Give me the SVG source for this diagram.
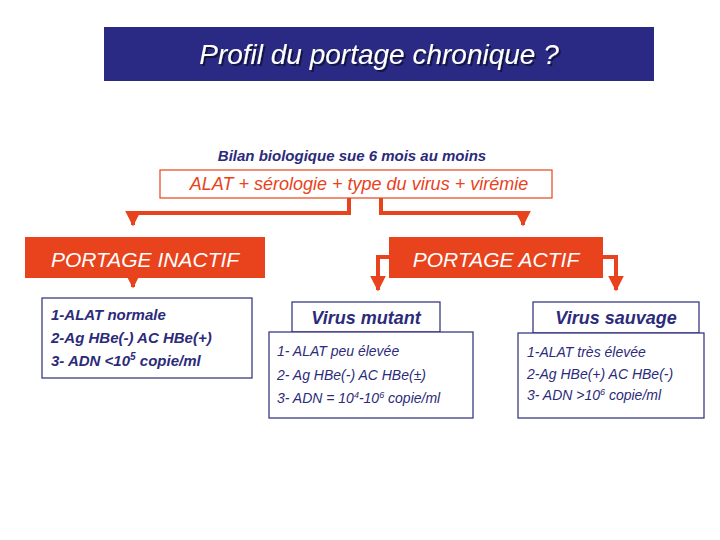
<svg xmlns="http://www.w3.org/2000/svg" width="720" height="540" viewBox="0 0 720 540">
<style>
text{font-family:"Liberation Sans",Arial,sans-serif;font-style:italic}
.nv{fill:#2b2b7a}
.red{fill:#e8431c}
.box{fill:#fff;stroke:#2b2b7a;stroke-width:1.2}
.ln{fill:none;stroke:#e8431c;stroke-width:4}
.det{font-size:14px;fill:#2b2b7a}
.detb{font-size:15px;font-weight:bold;fill:#2b2b7a}
.wh{fill:#fff;font-size:21px}
</style>
<defs>
<filter id="sh" x="-5%" y="-20%" width="110%" height="140%"><feDropShadow dx="2" dy="2" stdDeviation="0.5" flood-color="#000" flood-opacity="0.5"/></filter>
<marker id="a" viewBox="0 0 10 10" refX="9" refY="5" markerWidth="4" markerHeight="4" orient="auto"><path d="M0,0L10,5L0,10z" fill="#e8431c"/></marker>
</defs>
<g id="title">
<rect x="104" y="27" width="550" height="54" fill="#2a2a85"/>
<text x="379" y="64" text-anchor="middle" font-size="28" fill="#fff" filter="url(#sh)">Profil du portage chronique ?</text>
</g>
<g id="bilan"><text x="352" y="161" text-anchor="middle" font-size="15" font-weight="bold" class="nv">Bilan biologique sue 6 mois au moins</text></g>
<g id="alat">
<rect x="160" y="170" width="392" height="28" fill="#fff" stroke="#e8431c" stroke-width="1.2"/>
<text x="359" y="190" text-anchor="middle" font-size="18" class="red">ALAT + sérologie  + type du virus + virémie</text>
</g>
<g id="connectors">
<path class="ln" d="M349,198V213H133V225" marker-end="url(#a)"/>
<path class="ln" d="M381,198V213H523V225" marker-end="url(#a)"/>
<path class="ln" d="M133,278V287" marker-end="url(#a)"/>
<path class="ln" d="M389,257H378V290" marker-end="url(#a)"/>
<path class="ln" d="M603,257H616V290" marker-end="url(#a)"/>
</g>
<g id="inactif">
<rect x="25" y="237" width="240" height="41" fill="#e8431c"/>
<text x="145" y="267" text-anchor="middle" class="wh">PORTAGE INACTIF</text>
</g>
<g id="actif">
<rect x="389" y="237" width="214" height="41" fill="#e8431c"/>
<text x="496" y="267" text-anchor="middle" class="wh">PORTAGE ACTIF</text>
</g>
<g id="inactif-details">
<rect class="box" x="42" y="298" width="210" height="80"/>
<text x="51" y="320" class="detb">1-ALAT normale</text>
<text x="51" y="343" class="detb">2-Ag HBe(-)  AC HBe(+)</text>
<text x="51" y="366" class="detb">3- ADN &lt;10<tspan font-size="10" dy="-6">5</tspan><tspan dy="6"> copie/ml</tspan></text>
</g>
<g id="mutant">
<rect class="box" x="292" y="302" width="148" height="30"/>
<text x="366" y="324" text-anchor="middle" font-size="18" font-weight="bold" class="nv">Virus mutant</text>
</g>
<g id="mutant-details">
<rect class="box" x="269" y="332" width="204" height="86"/>
<text x="277" y="356" class="det">1- ALAT peu élevée</text>
<text x="277" y="380" class="det">2- Ag HBe(-)  AC HBe(±)</text>
<text x="277" y="403" class="det">3- ADN = 10<tspan font-size="9" dy="-5">4</tspan><tspan dy="5">-10</tspan><tspan font-size="9" dy="-5">6</tspan><tspan dy="5"> copie/ml</tspan></text>
</g>
<g id="sauvage">
<rect class="box" x="533" y="302" width="166" height="31"/>
<text x="616" y="324" text-anchor="middle" font-size="18" font-weight="bold" class="nv">Virus sauvage</text>
</g>
<g id="sauvage-details">
<rect class="box" x="518" y="333" width="186" height="85"/>
<text x="527" y="357" class="det">1-ALAT très élevée</text>
<text x="527" y="379" class="det">2-Ag HBe(+) AC HBe(-)</text>
<text x="527" y="400" class="det">3- ADN &gt;10<tspan font-size="9" dy="-5">6</tspan><tspan dy="5"> copie/ml</tspan></text>
</g>
</svg>
